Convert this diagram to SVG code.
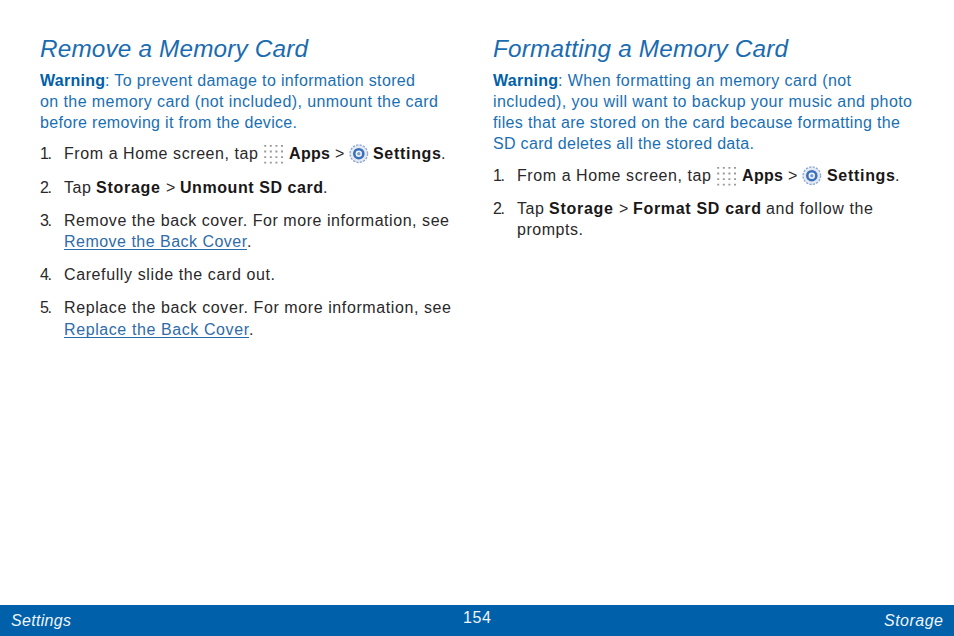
<svg xmlns="http://www.w3.org/2000/svg" width="954" height="636" viewBox="0 0 954 636">
<style>
text{font-family:"Liberation Sans",Arial,sans-serif;font-size:16px;fill:#2a2829}
.h{font-size:24.300px;font-style:italic;fill:#1a6bb0}
.w{fill:#1a6fb3}
.wb{fill:#0060a9;font-weight:bold}
.b{font-weight:bold;fill:#1a1718}
.l{fill:#2f6ca8}
.u{stroke:#2a6aa8;stroke-width:1;fill:none}
.f{fill:#f0f5fa;font-size:16px}
.i{font-style:italic}
</style>
<defs>
<g id="grid" fill="#9a9a9a">
<path id="r" d="M0 0h2v1.800H0zM5.600 0h2v1.800H5.600zM11.200 0h2v1.800H11.200zM16.800 0h2v1.800H16.800z"/>
<use href="#r" y="5.600"/><use href="#r" y="11.200"/><use href="#r" y="16.800"/>
</g>
<g id="gear">
<circle r="8.800" fill="#e4eaf4" stroke="#8aa3cf" stroke-width="1.300" stroke-dasharray="2.200 1.300"/>
<circle r="5.800" fill="#3a70ba"/>
<circle r="3.200" fill="#f2f5fa"/>
<circle r="1.700" fill="#7f9ccc"/>
</g>
</defs>
<rect width="954" height="636" fill="#fff"/>
<g id="left">
<text class="h" x="40" y="57" textLength="268">Remove a Memory Card</text>
<text class="wb" x="40" y="86" textLength="65">Warning</text>
<text class="w" x="105" y="86" textLength="310">: To prevent damage to information stored</text>
<text class="w" x="40" y="107" textLength="398">on the memory card (not included), unmount the card</text>
<text class="w" x="40" y="128" textLength="257">before removing it from the device.</text>
<text x="40" y="159" textLength="12">1.</text>
<text x="64" y="159" textLength="194">From a Home screen, tap</text>
<use href="#grid" x="264.200" y="145"/>
<text class="b" x="289" y="159" textLength="41">Apps</text>
<text x="335" y="159">&gt;</text>
<use href="#gear" x="358.800" y="153.700"/>
<text class="b" x="373" y="159" textLength="68">Settings</text>
<text x="441" y="159">.</text>
<text x="40" y="193" textLength="12">2.</text>
<text x="64" y="193" textLength="27">Tap</text>
<text class="b" x="96" y="193" textLength="64">Storage</text>
<text x="166" y="193">&gt;</text>
<text class="b" x="180" y="193" textLength="143">Unmount SD card</text>
<text x="323" y="193">.</text>
<text x="40" y="226" textLength="12">3.</text>
<text x="64" y="226" textLength="385">Remove the back cover. For more information, see</text>
<text class="l" x="64" y="247" textLength="183">Remove the Back Cover</text>
<path class="u" d="M64 249.500H247"/>
<text x="247" y="247">.</text>
<text x="40" y="280" textLength="12">4.</text>
<text x="64" y="280" textLength="211">Carefully slide the card out.</text>
<text x="40" y="313" textLength="12">5.</text>
<text x="64" y="313" textLength="387">Replace the back cover. For more information, see</text>
<text class="l" x="64" y="335" textLength="185">Replace the Back Cover</text>
<path class="u" d="M64 337.500H249"/>
<text x="249" y="335">.</text>
</g>
<g id="right">
<text class="h" x="493" y="57" textLength="295">Formatting a Memory Card</text>
<text class="wb" x="493" y="86" textLength="65">Warning</text>
<text class="w" x="558" y="86" textLength="293">: When formatting an memory card (not</text>
<text class="w" x="493" y="107" textLength="419">included), you will want to backup your music and photo</text>
<text class="w" x="493" y="128" textLength="407">files that are stored on the card because formatting the</text>
<text class="w" x="493" y="149" textLength="261">SD card deletes all the stored data.</text>
<text x="493" y="181" textLength="12">1.</text>
<text x="517" y="181" textLength="194">From a Home screen, tap</text>
<use href="#grid" x="717.200" y="167"/>
<text class="b" x="742" y="181" textLength="41">Apps</text>
<text x="788" y="181">&gt;</text>
<use href="#gear" x="811.800" y="175.700"/>
<text class="b" x="827" y="181" textLength="68">Settings</text>
<text x="895" y="181">.</text>
<text x="493" y="214" textLength="12">2.</text>
<text x="517" y="214" textLength="27">Tap</text>
<text class="b" x="549" y="214" textLength="64">Storage</text>
<text x="619" y="214">&gt;</text>
<text class="b" x="633" y="214" textLength="128">Format SD card</text>
<text x="766" y="214" textLength="107">and follow the</text>
<text x="517" y="235" textLength="66">prompts.</text>
</g>
<g id="footer">
<rect x="0" y="605" width="954" height="31" fill="#0060a9"/>
<text class="f i" x="11" y="626" textLength="60">Settings</text>
<text class="f" x="463" y="623" textLength="28">154</text>
<text class="f i" x="884" y="626" textLength="59">Storage</text>
</g>
</svg>
